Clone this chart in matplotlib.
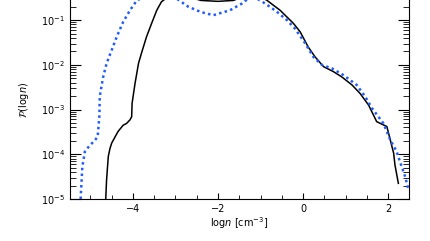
import numpy as np
import matplotlib
matplotlib.use("Agg")
import matplotlib.pyplot as plt
from matplotlib.ticker import MultipleLocator, LogLocator, NullFormatter

# Curva azul punteada (log n, log10 P)
x_azul = [-5.23, -5.19, -5.13, -5.04, -4.89, -4.83, -4.79, -4.78, -4.70, -4.62,
          -4.50, -4.38, -4.23, -4.07, -3.91, -3.60, -3.25, -2.97, -2.70, -2.40,
          -2.11, -1.72, -1.44, -1.20, -0.89, -0.62, -0.38, -0.19, 0.05, 0.24,
          0.44, 0.68, 0.95, 1.26, 1.46, 1.62, 1.89, 2.05, 2.20, 2.28, 2.40, 2.48]
y_azul = [-5.00, -4.28, -3.94, -3.83, -3.68, -3.61, -3.16, -2.70, -2.27, -1.97,
          -1.67, -1.37, -1.04, -0.78, -0.56, -0.42, -0.38, -0.52, -0.70, -0.82,
          -0.89, -0.78, -0.63, -0.45, -0.63, -0.81, -1.00, -1.19, -1.52, -1.82,
          -2.00, -2.08, -2.23, -2.45, -2.71, -2.97, -3.31, -3.68, -3.94, -4.17, -4.50, -4.80]

# Curva negra continua
x_negra = [-4.64, -4.62, -4.58, -4.54, -4.50, -4.42, -4.35, -4.23, -4.15, -4.07,
           -4.03, -4.02, -3.98, -3.95, -3.87, -3.80, -3.68, -3.56, -3.44, -3.33,
           -3.10, -2.80, -2.40, -2.00, -1.64, -1.20, -0.86, -0.54, -0.23, -0.07,
           0.12, 0.28, 0.48, 0.71, 0.91, 1.15, 1.34, 1.54, 1.73, 1.97, 2.05, 2.13, 2.16, 2.24]
y_negra = [-5.00, -4.57, -4.05, -3.87, -3.75, -3.61, -3.49, -3.35, -3.31, -3.23,
           -3.16, -2.86, -2.60, -2.41, -1.97, -1.74, -1.37, -1.07, -0.78, -0.59,
           -0.42, -0.45, -0.56, -0.58, -0.56, -0.40, -0.55, -0.78, -1.07, -1.26,
           -1.60, -1.82, -2.04, -2.15, -2.27, -2.45, -2.64, -2.90, -3.27, -3.38, -3.68, -3.98, -4.24, -4.65]

fig = plt.figure(figsize=(4.31, 2.41), dpi=100)
ax = fig.add_axes([70/431, 42/241, 339/431, 199/241])

ax.plot(x_negra, 10**np.array(y_negra), color='black', lw=1.1, linestyle='-')
ax.plot(x_azul, 10**np.array(y_azul), color='#1f5cff', lw=1.8, linestyle=(0, (1, 1.3)))

ax.set_yscale('log')
ax.set_xlim(-5.48, 2.49)
ax.set_ylim(1e-5, 10**-0.55)

ax.xaxis.set_major_locator(MultipleLocator(2))
ax.xaxis.set_minor_locator(MultipleLocator(0.5))
ax.yaxis.set_major_locator(LogLocator(base=10, numticks=10))
ax.yaxis.set_minor_locator(LogLocator(base=10, subs=np.arange(2, 10), numticks=10))
ax.yaxis.set_minor_formatter(NullFormatter())

ax.tick_params(axis='both', which='both', direction='in', top=False, right=True, labelsize=7)
ax.tick_params(axis='x', which='major', length=4)
ax.tick_params(axis='x', which='minor', length=3)
ax.tick_params(axis='y', which='major', length=8)
ax.tick_params(axis='y', which='minor', length=4)
ax.spines['top'].set_visible(False)

ax.set_xlabel(r'log$n$ [cm$^{-3}$]', fontsize=7, labelpad=1)
ax.set_ylabel(r'$\mathcal{P}$(log$n$)', fontsize=7, labelpad=7)

fig.savefig('out.png', dpi=100)
